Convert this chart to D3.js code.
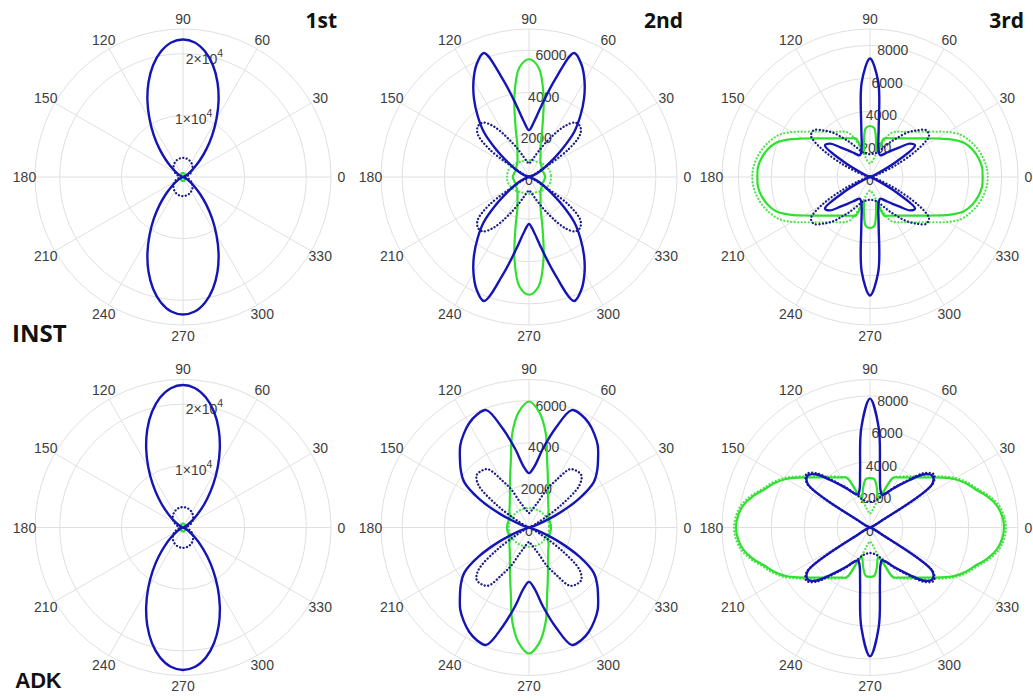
<!DOCTYPE html>
<html>
<head>
<meta charset="utf-8">
<script src="https://cdn.jsdelivr.net/npm/d3@7"></script>
<style>
  body { margin: 0; background: #fff; }
  svg { display: block; font-family: "Liberation Sans", Arial, Helvetica, sans-serif; }
</style>
</head>
<body>
<svg id="chart" width="1033" height="700"></svg>
<script>
// Polar angles (degrees) for one quadrant; each pattern is symmetric about both axes.
const angleDeg = [0, 5, 10, 15, 20, 25, 30, 35, 40, 45, 50, 55, 60, 65, 70, 75, 80, 85, 90];

// Angular grid / tick labels
const angleTicks = [0, 30, 60, 90, 120, 150, 180, 210, 240, 270, 300, 330];

// Radial limits and ticks per harmonic order
const rTicks1st = [10000, 20000];
const rTicks2nd = [0, 2000, 4000, 6000];
const rTicks3rd = [0, 2000, 4000, 6000, 8000];
const rMax1st = 24000, rMax2nd = 7000, rMax3rd = 9000;

const columnTitles = ["1st", "2nd", "3rd"];
const rowTitles = ["INST", "ADK"];

// ---- INST, 1st order ----
const inst1Blue  = [0, 0, 0, 30, 100, 300, 700, 1400, 2450, 3950, 5900, 8250, 10850, 13650, 16350, 18750, 20650, 21900, 22300];
const inst1Navy  = [0, 270, 540, 800, 1060, 1310, 1550, 1780, 1990, 2190, 2370, 2540, 2680, 2810, 2910, 2990, 3050, 3090, 3100];
const inst1Green = [120, 120, 130, 140, 160, 190, 230, 280, 330, 380, 430, 480, 530, 570, 600, 625, 640, 650, 650];

// ---- INST, 2nd order ----
const inst2Blue     = [0, 0, 0, 50, 190, 430, 760, 1230, 2030, 3030, 3780, 4540, 5250, 5870, 6240, 4780, 3450, 2600, 2220];
const inst2Navy     = [0, 0, 0, 0, 50, 190, 570, 2270, 3170, 3410, 3360, 2930, 2270, 1700, 1280, 990, 800, 690, 630];
const inst2Green    = [760, 760, 730, 730, 710, 690, 710, 730, 780, 800, 860, 950, 1090, 1290, 1610, 2460, 3950, 5200, 5570];
const inst2GreenDot = [1040, 1040, 1040, 1030, 1020, 990, 970, 950, 920, 900, 880, 850, 830, 800, 800, 800, 800, 800, 800];

// ---- INST, 3rd order ----
const inst3Blue     = [0, 0, 0, 0, 120, 490, 1820, 3340, 3160, 2550, 2130, 1820, 1580, 1460, 1580, 1950, 3040, 5780, 7210];
const inst3Navy     = [0, 0, 0, 240, 730, 1820, 3340, 4380, 4440, 4010, 3530, 2920, 2430, 2010, 1700, 1520, 1460, 1400, 1400];
const inst3Green    = [6850, 6840, 6690, 6450, 6080, 5410, 4680, 4100, 3660, 3330, 3070, 2870, 2720, 2600, 2490, 1520, 2130, 2980, 3100];
const inst3GreenDot = [7160, 7110, 6960, 6750, 6450, 6080, 5470, 4800, 4290, 3890, 3590, 3360, 3180, 2920, 2190, 1460, 1030, 880, 830];

// ---- ADK, 1st order ----
const adk1Blue  = [0, 0, 0, 30, 110, 310, 720, 1440, 2540, 4090, 6100, 8540, 11250, 14130, 16930, 19420, 21390, 22670, 23100];
const adk1Navy  = [0, 290, 570, 850, 1130, 1390, 1650, 1890, 2120, 2330, 2530, 2700, 2860, 2990, 3100, 3190, 3250, 3290, 3300];
const adk1Green = [120, 120, 130, 140, 160, 190, 230, 280, 330, 380, 430, 480, 530, 570, 600, 625, 640, 650, 650];

// ---- ADK, 2nd order ----
const adk2Blue     = [0, 0, 25, 140, 470, 1470, 2740, 3740, 4210, 4620, 5060, 5390, 5680, 5870, 5910, 4870, 3780, 2890, 2570];
const adk2Navy     = [0, 0, 0, 0, 50, 140, 570, 1890, 3120, 3500, 3500, 3360, 2600, 1990, 1320, 1040, 850, 750, 680];
const adk2Green    = [1040, 1040, 1030, 1020, 1020, 1040, 1060, 1110, 1210, 1300, 1420, 1580, 1800, 2130, 2600, 3310, 4540, 5490, 5960];
const adk2GreenDot = [950, 950, 950, 950, 950, 940, 940, 940, 930, 930, 930, 930, 920, 920, 920, 920, 920, 920, 920];

// ---- ADK, 3rd order ----
const adk3Blue     = [0, 0, 0, 0, 60, 240, 730, 4620, 4930, 4560, 3770, 3160, 2680, 2310, 2130, 2430, 3470, 6080, 7840];
const adk3Navy     = [0, 0, 0, 0, 60, 240, 790, 4680, 5050, 4680, 3890, 3220, 2740, 2310, 2010, 1760, 1640, 1580, 1550];
const adk3Green    = [8150, 8060, 7810, 7360, 6810, 6390, 5900, 5290, 4730, 4300, 3970, 3710, 3510, 3340, 2250, 1890, 2430, 2950, 3000];
const adk3GreenDot = [8270, 8180, 7940, 7480, 6930, 6510, 6020, 5410, 4830, 4410, 4070, 3800, 3560, 3340, 2190, 1640, 1160, 940, 850];

// Line styles
const styles = {
  greenDot: { color: "#4fe34f", width: 2.2, dash: "0.1 3.4" },
  green:    { color: "#2fe02f", width: 2.2, dash: null },
  navy:     { color: "#1c1c88", width: 2.3, dash: "0.1 3.4" },
  blue:     { color: "#1515b5", width: 2.4, dash: null }
};

const panels = [
  { row: 0, col: 0, rMax: rMax1st, ticks: rTicks1st, sci: true,
    series: { green: inst1Green, navy: inst1Navy, blue: inst1Blue } },
  { row: 0, col: 1, rMax: rMax2nd, ticks: rTicks2nd,
    series: { greenDot: inst2GreenDot, green: inst2Green, navy: inst2Navy, blue: inst2Blue } },
  { row: 0, col: 2, rMax: rMax3rd, ticks: rTicks3rd,
    series: { greenDot: inst3GreenDot, green: inst3Green, navy: inst3Navy, blue: inst3Blue } },
  { row: 1, col: 0, rMax: rMax1st, ticks: rTicks1st, sci: true,
    series: { green: adk1Green, navy: adk1Navy, blue: adk1Blue } },
  { row: 1, col: 1, rMax: rMax2nd, ticks: rTicks2nd,
    series: { greenDot: adk2GreenDot, green: adk2Green, navy: adk2Navy, blue: adk2Blue } },
  { row: 1, col: 2, rMax: rMax3rd, ticks: rTicks3rd,
    series: { greenDot: adk3GreenDot, green: adk3Green, navy: adk3Navy, blue: adk3Blue } }
];

const centersX = [183, 529, 870];
const centersY = [177, 527.5];
const R = 148;
const labelR = 158.5;
const gridColor = "#e0e0e0";
const textColor = "#3d3d3d";

const svg = d3.select("#chart");

// Expand a quadrant (0–90°) into a full closed polar curve, mirrored about both axes.
function fullCircle(q) {
  const pts = [];
  const step = angleDeg[1] - angleDeg[0];
  for (let a = 0; a < 360; a += step) {
    let m = a % 180;
    if (m > 90) m = 180 - m;
    pts.push({ theta: a, r: q[angleDeg.indexOf(m)] });
  }
  return pts;
}

panels.forEach(p => {
  const cx = centersX[p.col], cy = centersY[p.row];
  const g = svg.append("g").attr("transform", `translate(${cx},${cy})`);
  const rScale = d3.scaleLinear().domain([0, p.rMax]).range([0, R]);

  // Concentric grid circles at each nonzero tick and the outer limit
  const rings = p.ticks.filter(t => t > 0).concat([p.rMax]);
  g.selectAll("circle.ring").data(rings).join("circle")
    .attr("class", "ring")
    .attr("r", d => rScale(d))
    .attr("fill", "none")
    .attr("stroke", gridColor)
    .attr("stroke-width", 1);

  // Radial spokes every 30°
  g.selectAll("line.spoke").data(angleTicks).join("line")
    .attr("class", "spoke")
    .attr("x1", 0).attr("y1", 0)
    .attr("x2", d => R * Math.cos(d * Math.PI / 180))
    .attr("y2", d => -R * Math.sin(d * Math.PI / 180))
    .attr("stroke", gridColor)
    .attr("stroke-width", 1);

  // Angle labels
  g.selectAll("text.ang").data(angleTicks).join("text")
    .attr("class", "ang")
    .attr("x", d => labelR * Math.cos(d * Math.PI / 180))
    .attr("y", d => -labelR * Math.sin(d * Math.PI / 180))
    .attr("text-anchor", "middle")
    .attr("dominant-baseline", "central")
    .attr("font-size", 14)
    .attr("fill", textColor)
    .text(d => d);

  // Radial tick labels placed along the 80° direction
  const rAxisAngle = 80 * Math.PI / 180;
  p.ticks.forEach(t => {
    const tx = rScale(t) * Math.cos(rAxisAngle);
    const ty = -rScale(t) * Math.sin(rAxisAngle) + 3;
    const txt = g.append("text")
      .attr("x", tx).attr("y", ty)
      .attr("text-anchor", "middle")
      .attr("dominant-baseline", "central")
      .attr("font-size", 14)
      .attr("fill", textColor);
    if (p.sci && t > 0) {
      const exp = Math.floor(Math.log10(t));
      txt.append("tspan").text(`${t / Math.pow(10, exp)}\u00d710`);
      txt.append("tspan").attr("dy", -6).attr("font-size", 10.5).text(exp);
    } else {
      txt.text(t);
    }
  });

  // Data curves
  const line = d3.lineRadial()
    .angle(d => (90 - d.theta) * Math.PI / 180)
    .radius(d => rScale(d.r))
    .curve(d3.curveCatmullRomClosed.alpha(0.5));

  Object.entries(p.series).forEach(([key, values]) => {
    const st = styles[key];
    g.append("path")
      .datum(fullCircle(values))
      .attr("d", line)
      .attr("fill", "none")
      .attr("stroke", st.color)
      .attr("stroke-width", st.width)
      .attr("stroke-linecap", st.dash ? "round" : "butt")
      .attr("stroke-linejoin", "round")
      .attr("stroke-dasharray", st.dash);
  });
});

// Column titles (top row)
svg.selectAll("text.coltitle").data(columnTitles).join("text")
  .attr("class", "coltitle")
  .attr("x", (d, i) => centersX[i] + 154)
  .attr("y", 28)
  .attr("text-anchor", "end")
  .attr("font-family", "'Open Sans', 'Noto Sans', sans-serif")
  .attr("font-weight", 700)
  .attr("font-size", 21)
  .attr("fill", "#111")
  .text(d => d);

// Row titles
svg.append("text")
  .attr("x", 12).attr("y", 342)
  .attr("font-family", "'Open Sans', 'Noto Sans', sans-serif")
  .attr("font-weight", 700)
  .attr("font-size", 24)
  .attr("fill", "#111")
  .text(rowTitles[0]);

svg.append("text")
  .attr("x", 15).attr("y", 688)
  .attr("font-family", "'Liberation Sans', Arial, sans-serif")
  .attr("font-weight", 700)
  .attr("font-size", 21.5)
  .attr("fill", "#111")
  .text(rowTitles[1]);
</script>
</body>
</html>
